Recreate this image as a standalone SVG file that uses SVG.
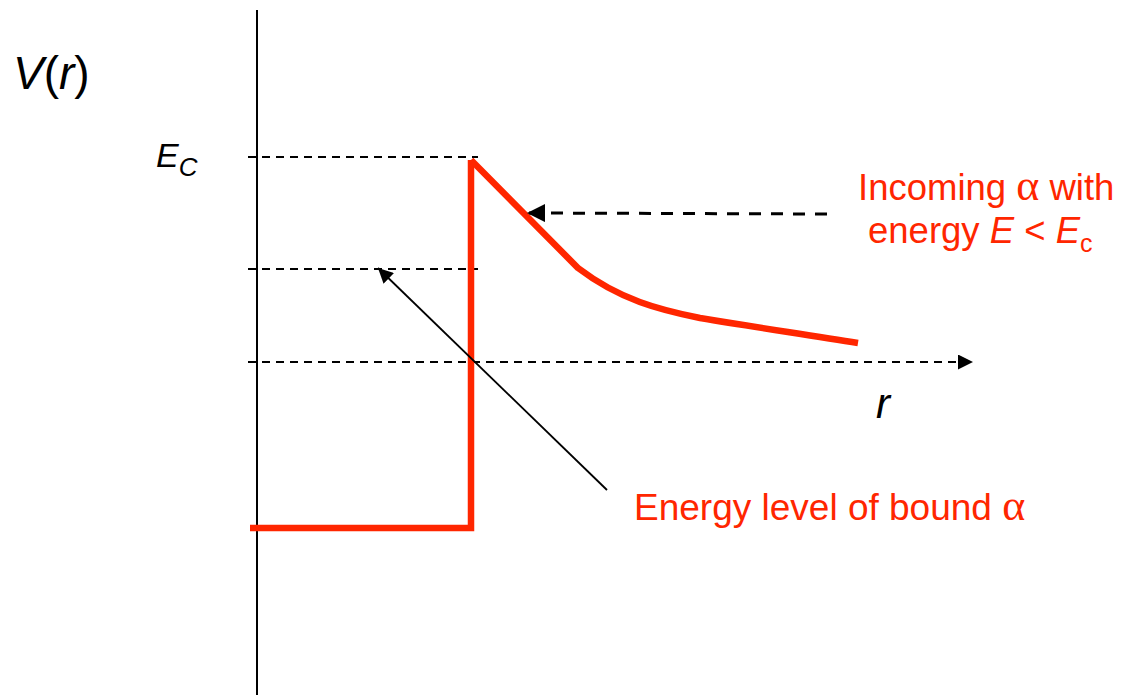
<svg xmlns="http://www.w3.org/2000/svg" width="1123" height="695" viewBox="0 0 1123 695">
<defs>
<style>
.dash{stroke:#000;stroke-width:1.8;stroke-dasharray:8 6;fill:none}
.red{stroke:#ff2600;fill:none;stroke-width:6.5}
.lbl{font-family:"Liberation Sans",Arial,sans-serif;fill:#000}
.rlbl{font-family:"Liberation Sans",Arial,sans-serif;fill:#ff2600}
.greek{font-family:"Liberation Serif","Times New Roman",serif}
</style>
<marker id="tri2" viewBox="0 0 10 10" refX="10" refY="5" markerWidth="15" markerHeight="15" markerUnits="userSpaceOnUse" orient="auto"><path d="M0,0 L10,5 L0,10 z" fill="#000"/></marker>
<marker id="head" viewBox="0 0 10 10" refX="10" refY="5" markerWidth="6" markerHeight="6" orient="auto"><path d="M0,0 L10,5 L0,10 z" fill="#000"/></marker>
</defs>
<g id="axes">
<line x1="257" y1="10" x2="257" y2="695" stroke="#000" stroke-width="2"/>
<line class="dash" x1="248" y1="157" x2="478" y2="157"/>
<line class="dash" x1="248" y1="269" x2="478" y2="269"/>
<line class="dash" x1="248" y1="362" x2="973" y2="362" marker-end="url(#tri2)"/>
</g>
<g id="potential">
<path class="red" d="M250,528 L471,528 L471,160"/>
<path class="red" d="M471,160 L578,268 C620,300 660,310 700,318 C760,328 810,335 858,343"/>
</g>
<g id="connectors">
<line x1="827" y1="214" x2="527" y2="213" stroke="#000" stroke-width="3" stroke-dasharray="12 10" marker-end="url(#head)"/>
<line x1="607" y1="490" x2="378" y2="268" stroke="#000" stroke-width="1.8" marker-end="url(#tri2)"/>
</g>
<g id="labels">
<text class="lbl" x="13" y="89" font-size="46"><tspan font-style="italic">V</tspan>(<tspan font-style="italic">r</tspan>)</text>
<text class="lbl" x="156" y="167" font-size="34" font-style="italic">E<tspan font-size="26" dy="9">C</tspan></text>
<text class="lbl" x="876" y="418" font-size="42" font-style="italic">r</text>
<text class="rlbl" x="858" y="200" font-size="36.5">Incoming <tspan class="greek" font-size="44">α</tspan> with</text>
<text class="rlbl" x="868" y="243" font-size="36.5">energy <tspan font-style="italic">E</tspan> &lt; <tspan font-style="italic">E</tspan><tspan font-size="25" dy="9">c</tspan></text>
<text class="rlbl" x="634" y="520" font-size="37">Energy level of bound <tspan class="greek" font-size="44">α</tspan></text>
</g>
</svg>
